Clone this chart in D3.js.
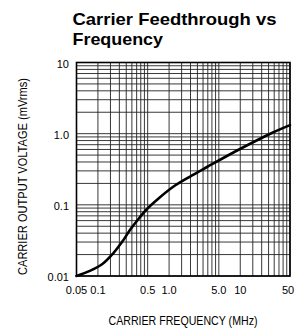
<!DOCTYPE html>
<html>
<head>
<meta charset="utf-8">
<script src="https://cdn.jsdelivr.net/npm/d3@7"></script>
<style>
  body { margin: 0; background: #fff; }
  svg { display: block; font-family: "Liberation Sans", Arial, sans-serif; }
</style>
</head>
<body>
<div id="chart"></div>
<script>
// data
var freqMHz = [0.05, 0.077, 0.118, 0.163, 0.218, 0.282, 0.366, 0.489, 0.698, 1.13, 1.97, 3.41, 9.9, 28.8, 50];
var outVrms = [0.01, 0.0118, 0.015, 0.0207, 0.030, 0.0443, 0.0622, 0.0874, 0.121, 0.178, 0.25, 0.34, 0.609, 1.04, 1.32];

var xTickVals = [0.05, 0.1, 0.5, 1, 5, 10, 50];
var xTickLabels = ["0.05", "0.1", "0.5", "1.0", "5.0", "10", "50"];
var yTickVals = [0.01, 0.1, 1, 10];
var yTickLabels = ["0.01", "0.1", "1.0", "10"];

var decades = [0.1, 1, 10];
var xGridMult = [1, 1.5, 2, 2.5, 3, 3.5, 4, 4.5, 5];
var yDecades = [0.01, 0.1, 1];
var yGridMult = [1, 2, 3, 4, 5, 6, 7, 8, 9];

var width = 297, height = 329;
var svg = d3.select("#chart").append("svg")
  .attr("width", width)
  .attr("height", height);

var x = d3.scaleLog().domain([0.05, 50]).range([76.5, 290]);
var y = d3.scaleLog().domain([0.01, 10]).range([276, 62.5]);

// title
svg.append("text")
  .attr("x", 72.5)
  .attr("y", 24.5)
  .attr("textLength", 204)
  .attr("lengthAdjust", "spacingAndGlyphs")
  .style("font-size", "17px")
  .style("font-weight", "bold")
  .text("Carrier Feedthrough vs");
svg.append("text")
  .attr("x", 72.5)
  .attr("y", 45)
  .attr("textLength", 90.5)
  .attr("lengthAdjust", "spacingAndGlyphs")
  .style("font-size", "17px")
  .style("font-weight", "bold")
  .text("Frequency");

// grid
var xGrid = [];
decades.forEach(function(d){ xGridMult.forEach(function(m){ xGrid.push(d * m); }); });
var yGrid = [];
yDecades.forEach(function(d){ yGridMult.forEach(function(m){ yGrid.push(d * m); }); });

svg.append("g").selectAll("line")
  .data(xGrid)
  .enter().append("line")
  .attr("x1", function(d){ return x(d); })
  .attr("x2", function(d){ return x(d); })
  .attr("y1", y(10))
  .attr("y2", y(0.01))
  .attr("stroke", "#222")
  .attr("stroke-width", 0.9);

svg.append("g").selectAll("line")
  .data(yGrid)
  .enter().append("line")
  .attr("x1", x(0.05))
  .attr("x2", x(50))
  .attr("y1", function(d){ return y(d); })
  .attr("y2", function(d){ return y(d); })
  .attr("stroke", "#222")
  .attr("stroke-width", 0.9);

// frame
svg.append("rect")
  .attr("x", x(0.05))
  .attr("y", y(10))
  .attr("width", x(50) - x(0.05))
  .attr("height", y(0.01) - y(10))
  .attr("fill", "none")
  .attr("stroke", "#000")
  .attr("stroke-width", 1.6);

// tick labels
svg.append("g").selectAll("text")
  .data(xTickVals)
  .enter().append("text")
  .attr("x", function(d){ return Math.min(x(d), 288); })
  .attr("y", 294)
  .attr("text-anchor", "middle")
  .style("font-size", "11px")
  .text(function(d, i){ return xTickLabels[i]; });

svg.append("g").selectAll("text")
  .data(yTickVals)
  .enter().append("text")
  .attr("x", 69)
  .attr("y", function(d){ return y(d) + 5; })
  .attr("text-anchor", "end")
  .style("font-size", "11px")
  .text(function(d, i){ return yTickLabels[i]; });

// axis titles
svg.append("text")
  .attr("x", 183)
  .attr("y", 325)
  .attr("text-anchor", "middle")
  .attr("textLength", 149)
  .attr("lengthAdjust", "spacingAndGlyphs")
  .style("font-size", "13px")
  .text("CARRIER FREQUENCY (MHz)");

svg.append("text")
  .attr("transform", "translate(27,176.5) rotate(-90)")
  .attr("text-anchor", "middle")
  .attr("textLength", 197)
  .attr("lengthAdjust", "spacingAndGlyphs")
  .style("font-size", "13px")
  .text("CARRIER OUTPUT VOLTAGE (mVrms)");

// curve
var pts = freqMHz.map(function(f, i){ return [x(f), y(outVrms[i])]; });
svg.append("path")
  .datum(pts)
  .attr("fill", "none")
  .attr("stroke", "#000")
  .attr("stroke-width", 2.6)
  .attr("stroke-linecap", "round")
  .attr("d", d3.line().curve(d3.curveCatmullRom.alpha(0.5)));
</script>
</body>
</html>
